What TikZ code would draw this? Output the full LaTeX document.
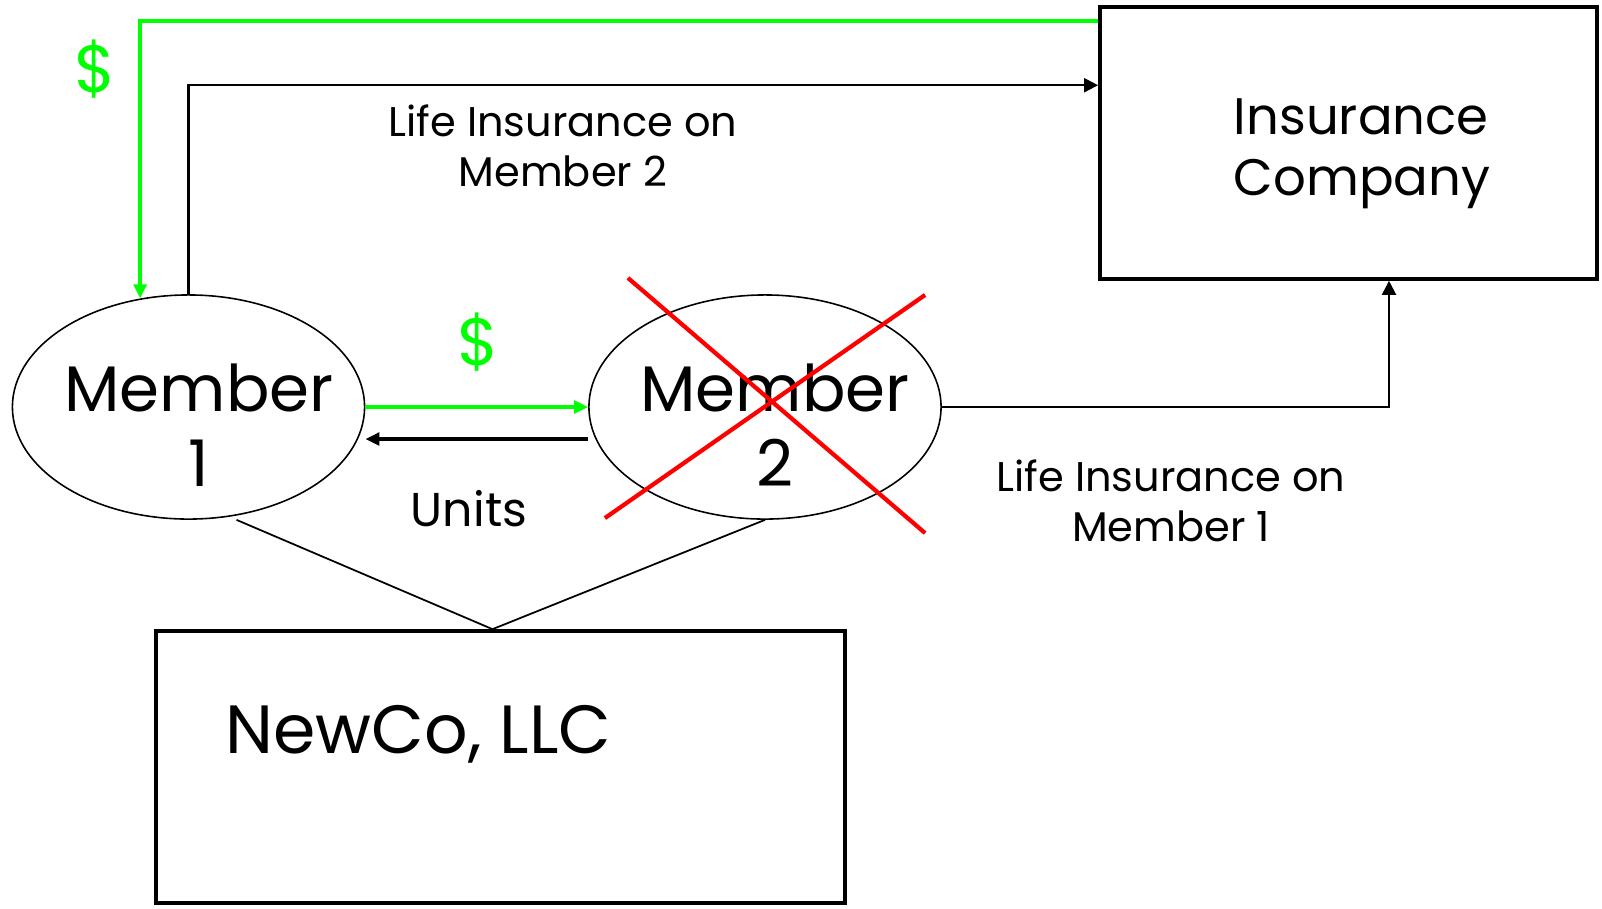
\documentclass[tikz,border=0pt]{standalone}
\usepackage{fontspec}
\setmainfont{Poppins}
\usetikzlibrary{positioning,shapes,arrows.meta}

\definecolor{money}{RGB}{0,255,0}
\tikzset{
  box/.style={draw, line width=1pt, rectangle, inner sep=0pt},
  member/.style={draw, line width=0.45pt, ellipse, minimum width=3.52cm, minimum height=2.24cm, inner sep=0pt},
  memtext/.style={align=center, inner sep=0pt, font=\fontsize{18.3}{21.5}\selectfont},
  conn/.style={line width=0.6pt, -{Triangle[length=4pt,width=4pt]}},
  cash/.style={money, line width=1.1pt, -{Triangle[length=4pt,width=3.6pt]}},
  lbl/.style={align=center, font=\fontsize{11.8}{14.2}\selectfont}
}

\begin{document}
\begin{tikzpicture}[x=0.01cm, y=-0.01cm]
				\useasboundingbox (0,0) rectangle (1602,908);
				\node[box, minimum width=4.97cm, minimum height=2.72cm] (IC) at (1348.5,143) {};
				\node[align=left, inner sep=0pt, font=\fontsize{14.6}{17.2}\selectfont] (ICt) at (1362,154) {Insurance\\Company};
				\node[member] (M1) at (188.5,407) {};
				\node[memtext] (M1t) at (199,425) {Member\\1};
				\node[member] (M2) at (765,407) {};
				\node[memtext] (M2t) at (775,425) {Member\\2};
				\node[box, minimum width=6.89cm, minimum height=2.72cm] (NC) at (500.5,767) {};
				\node[anchor=west, inner sep=0pt, font=\fontsize{19.4}{23}\selectfont] (NCt) at (225,734) {NewCo, LLC};
				\node[lbl] (L2) at (563,146) {Life Insurance on\\Member 2};
				\node[lbl] (L1) at (1171,501) {Life Insurance on\\Member 1};
				\node[font=\fontsize{13.5}{16}\selectfont] (U) at (469,509) {Units};
				\node[money, font=\fontsize{19}{22}\selectfont] (D1) at (95,69) {\$};
				\node[money, font=\fontsize{19}{22}\selectfont] (D2) at (478,342) {\$};
				% money and policies
				\draw[cash] ([yshift=-0.155cm]IC.north west) -| (M1.114);
				\draw[conn] (M1.north) |- ([yshift=-0.8cm]IC.north west);
				\draw[conn] (M2.east) -| ([xshift=0.405cm]IC.south);
				\draw[cash] (M1.east) -- (M2.west);
				\draw[line width=1.2pt, -{Triangle[length=4pt,width=3.6pt]}] ([yshift=-0.32cm]M2.west) -- ([yshift=-0.32cm]M1.east);
				% ownership
				\draw[line width=0.5pt] ([xshift=0.48cm]M1.south) -- ([xshift=-0.08cm]NC.north) -- (M2.south);
				% crossed out
				\draw[red, line width=1.2pt] ([shift={(-1.37cm,1.29cm)}]M2.center) -- ([shift={(1.60cm,-1.26cm)}]M2.center);
				\draw[red, line width=1.2pt] ([shift={(1.60cm,1.12cm)}]M2.center) -- ([shift={(-1.60cm,-1.11cm)}]M2.center);
			\end{tikzpicture}
\end{document}
